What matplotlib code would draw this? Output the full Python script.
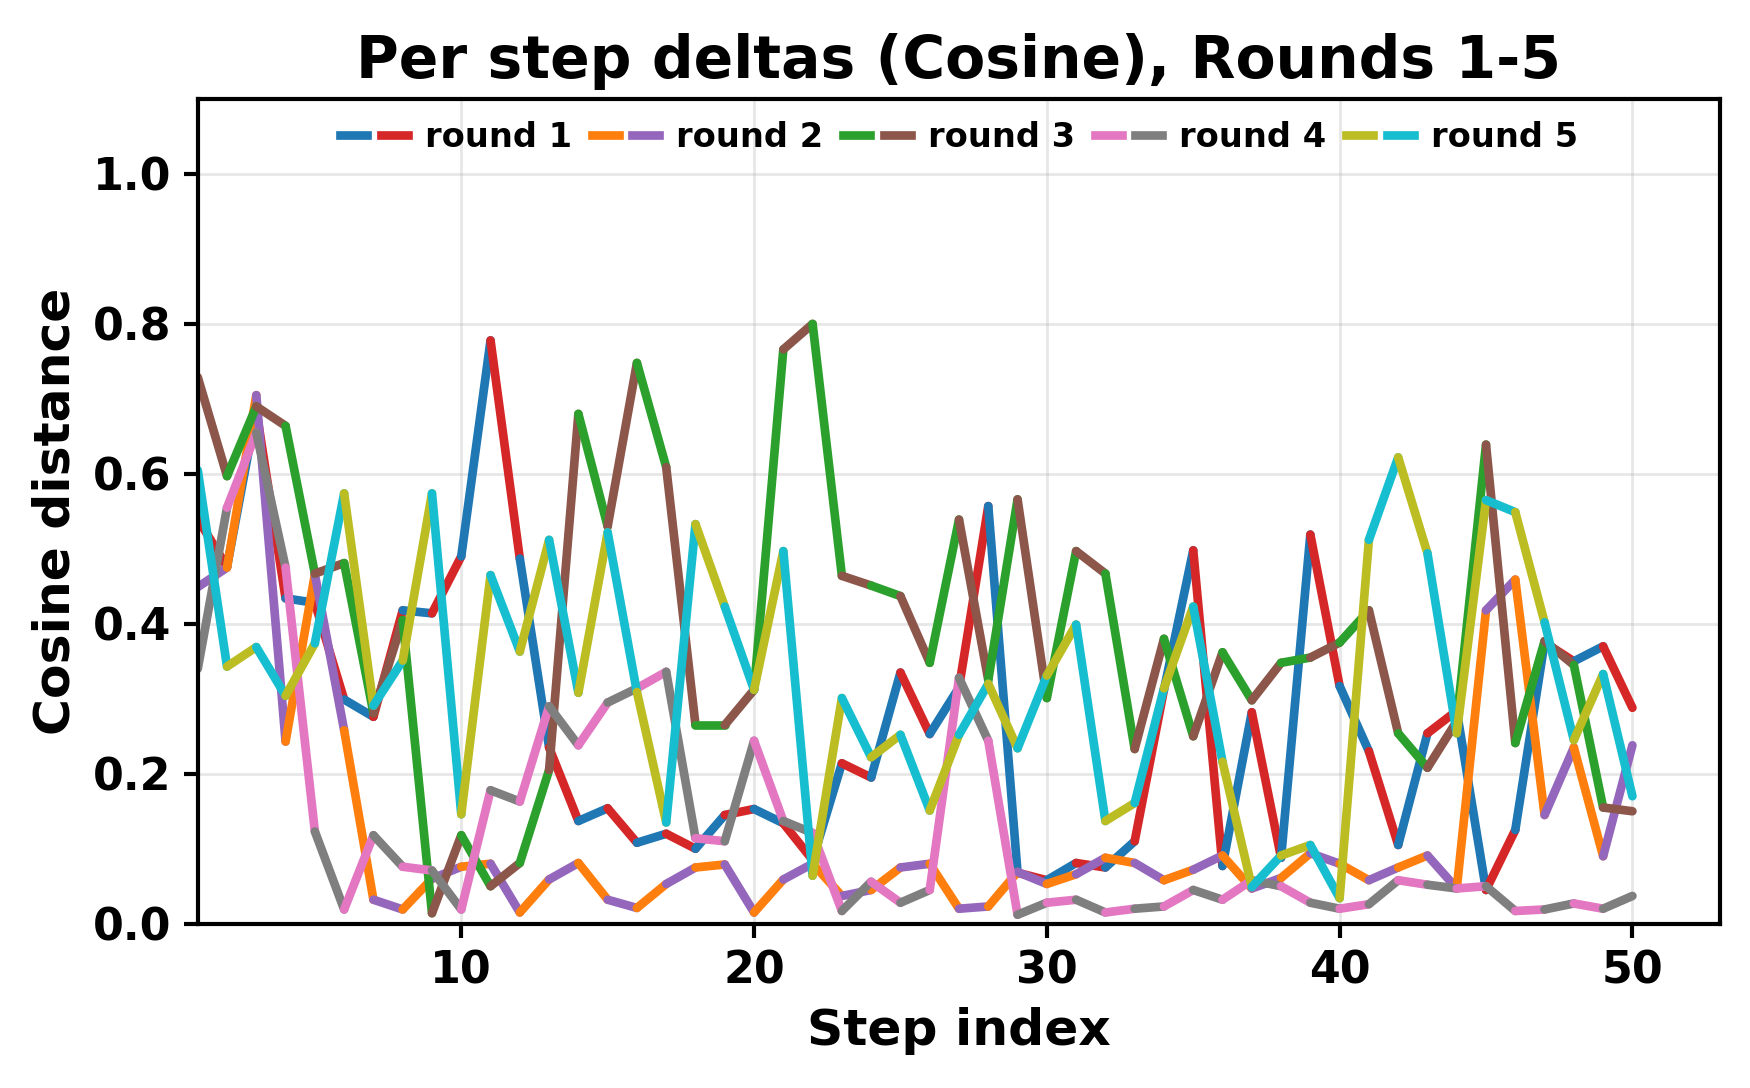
import numpy as np
import matplotlib
matplotlib.use("Agg")
import matplotlib.pyplot as plt
from matplotlib.lines import Line2D
from matplotlib.legend_handler import HandlerTuple

# step index 1..50
steps = np.arange(1, 51)

# per step cosine deltas
round_1 = [0.540, 0.476, 0.685, 0.434, 0.428, 0.299, 0.276, 0.418, 0.414, 0.490,
           0.778, 0.487, 0.235, 0.137, 0.154, 0.108, 0.120, 0.100, 0.145, 0.153,
           0.134, 0.085, 0.214, 0.195, 0.335, 0.253, 0.315, 0.557, 0.068, 0.058,
           0.081, 0.075, 0.110, 0.312, 0.498, 0.077, 0.282, 0.088, 0.519, 0.317,
           0.230, 0.105, 0.254, 0.284, 0.045, 0.125, 0.375, 0.350, 0.370, 0.288]
round_2 = [0.449, 0.475, 0.705, 0.243, 0.466, 0.258, 0.032, 0.019, 0.060, 0.076,
           0.080, 0.015, 0.059, 0.081, 0.032, 0.021, 0.053, 0.075, 0.079, 0.015,
           0.059, 0.080, 0.037, 0.045, 0.075, 0.080, 0.020, 0.023, 0.069, 0.053,
           0.066, 0.088, 0.081, 0.058, 0.072, 0.091, 0.047, 0.061, 0.094, 0.080,
           0.058, 0.075, 0.091, 0.047, 0.418, 0.459, 0.145, 0.235, 0.090, 0.238]
round_3 = [0.729, 0.597, 0.690, 0.664, 0.467, 0.481, 0.281, 0.405, 0.014, 0.118,
           0.050, 0.081, 0.205, 0.680, 0.530, 0.748, 0.609, 0.265, 0.265, 0.312,
           0.766, 0.800, 0.464, 0.451, 0.437, 0.348, 0.539, 0.325, 0.566, 0.301,
           0.497, 0.467, 0.233, 0.380, 0.250, 0.362, 0.298, 0.348, 0.355, 0.375,
           0.418, 0.254, 0.208, 0.270, 0.639, 0.241, 0.377, 0.345, 0.155, 0.150]
round_4 = [0.340, 0.555, 0.655, 0.475, 0.123, 0.019, 0.118, 0.076, 0.071, 0.019,
           0.178, 0.163, 0.290, 0.238, 0.295, 0.314, 0.336, 0.114, 0.110, 0.244,
           0.137, 0.121, 0.017, 0.056, 0.028, 0.045, 0.328, 0.244, 0.012, 0.028,
           0.032, 0.015, 0.020, 0.023, 0.045, 0.032, 0.058, 0.050, 0.028, 0.020,
           0.026, 0.058, 0.052, 0.047, 0.050, 0.017, 0.019, 0.027, 0.020, 0.037]
round_5 = [0.605, 0.343, 0.369, 0.304, 0.374, 0.574, 0.291, 0.351, 0.574, 0.146,
           0.465, 0.363, 0.512, 0.308, 0.522, 0.309, 0.135, 0.533, 0.423, 0.312,
           0.497, 0.064, 0.301, 0.222, 0.252, 0.151, 0.252, 0.320, 0.234, 0.331,
           0.399, 0.137, 0.161, 0.314, 0.423, 0.216, 0.049, 0.091, 0.105, 0.034,
           0.512, 0.622, 0.494, 0.254, 0.565, 0.549, 0.402, 0.245, 0.333, 0.170]

rounds = [round_1, round_2, round_3, round_4, round_5]
labels = ["round 1", "round 2", "round 3", "round 4", "round 5"]
# segment colours alternate between the two colours of each round
color_pairs = [("tab:blue", "tab:red"),
               ("tab:orange", "tab:purple"),
               ("tab:green", "tab:brown"),
               ("tab:pink", "tab:gray"),
               ("tab:olive", "tab:cyan")]

plt.rcParams["font.weight"] = "bold"
plt.rcParams["axes.labelweight"] = "bold"
plt.rcParams["axes.titleweight"] = "bold"

fig, ax = plt.subplots(figsize=(7.0, 4.352), dpi=250)
fig.subplots_adjust(left=0.113, right=0.983, bottom=0.151, top=0.909)

lw = 2.5
handles = []
for vals, (c_even, c_odd) in zip(rounds, color_pairs):
    for i in range(len(steps) - 1):
        c = c_even if steps[i] % 2 == 0 else c_odd
        ax.plot(steps[i:i + 2], vals[i:i + 2], color=c, lw=lw,
                solid_capstyle="round")
    handles.append((Line2D([], [], color=c_even, lw=lw),
                    Line2D([], [], color=c_odd, lw=lw)))

ax.set_xlim(1, 53)
ax.set_ylim(0, 1.1)
ax.set_xticks([10, 20, 30, 40, 50])
ax.set_yticks([0.0, 0.2, 0.4, 0.6, 0.8, 1.0])
ax.grid(True, alpha=0.3, lw=0.8)
ax.set_axisbelow(True)

for sp in ax.spines.values():
    sp.set_linewidth(1.2)
ax.tick_params(width=1.2, length=4, labelsize=12.8)

ax.set_title("Per step deltas (Cosine), Rounds 1-5", fontsize=16.8)
ax.set_xlabel("Step index", fontsize=14.5)
ax.set_ylabel("Cosine distance", fontsize=14.5)

ax.legend(handles, labels, handler_map={tuple: HandlerTuple(ndivide=None)},
          loc="upper center", ncol=5, frameon=False, fontsize=9.7,
          handletextpad=0.5, columnspacing=0.6, borderaxespad=0.25)

fig.savefig("out.png", dpi=250)
